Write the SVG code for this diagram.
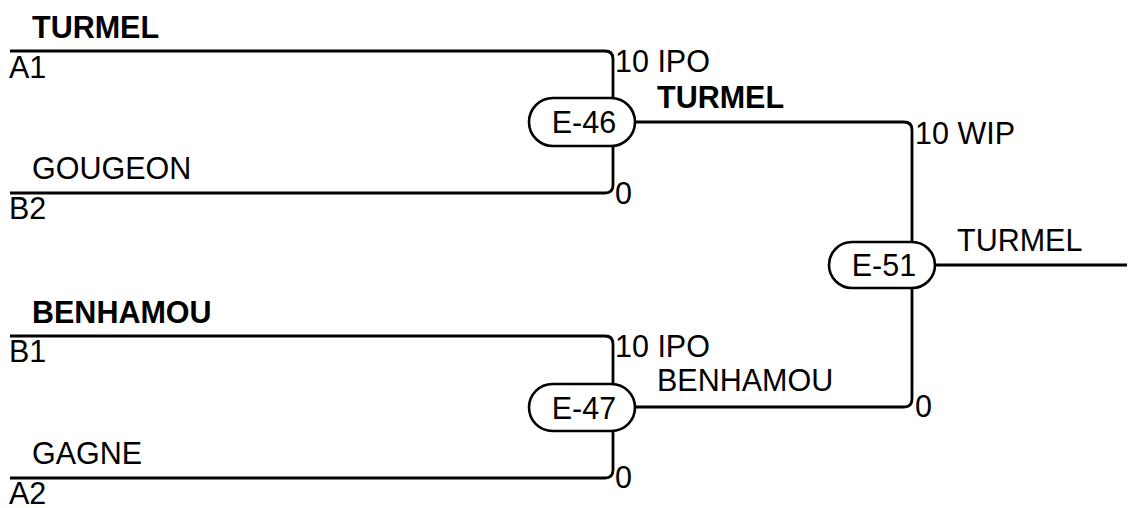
<svg xmlns="http://www.w3.org/2000/svg" width="1131" height="508" viewBox="0 0 1131 508">
<style>
.ln{fill:none;stroke:#000;stroke-width:2.8}
.pill{fill:#fff;stroke:#000;stroke-width:2.6}
text{font-family:"Liberation Sans",Arial,sans-serif;font-size:30.5px;fill:#000}
.b{font-weight:bold}
.c{text-anchor:middle}
</style>
<rect width="1131" height="508" fill="#fff"/>
<g id="connectors">
<path class="ln" d="M10,51 H605 Q613,51 613,59 V100"/>
<path class="ln" d="M10,193 H605 Q613,193 613,185 V144"/>
<path class="ln" d="M635,122 H904 Q912,122 912,130 V243"/>
<path class="ln" d="M10,336 H605 Q613,336 613,344 V385"/>
<path class="ln" d="M10,478 H605 Q613,478 613,470 V430"/>
<path class="ln" d="M635,407 H904 Q912,407 912,399 V287"/>
<path class="ln" d="M935,265 H1127"/>
</g>
<g id="entrants">
<text class="b" x="32" y="38">TURMEL</text>
<text x="9" y="78">A1</text>
<text x="32" y="179">GOUGEON</text>
<text x="9" y="219">B2</text>
<text class="b" x="32" y="323">BENHAMOU</text>
<text x="9" y="362">B1</text>
<text x="32" y="464">GAGNE</text>
<text x="9" y="504">A2</text>
</g>
<g id="E-46">
<rect class="pill" x="529" y="98" width="106" height="48" rx="24"/>
<text class="c" x="584" y="133">E-46</text>
<text x="615" y="72">10 IPO</text>
<text x="615" y="204">0</text>
<text class="b" x="657" y="108">TURMEL</text>
</g>
<g id="E-47">
<rect class="pill" x="529" y="384" width="106" height="47" rx="23.5"/>
<text class="c" x="584" y="419">E-47</text>
<text x="615" y="357">10 IPO</text>
<text x="615" y="488">0</text>
<text x="657" y="391">BENHAMOU</text>
</g>
<g id="E-51">
<rect class="pill" x="829" y="242" width="106" height="46" rx="23"/>
<text class="c" x="884" y="276">E-51</text>
<text x="915" y="144">10 WIP</text>
<text x="915" y="417">0</text>
<text x="957" y="251">TURMEL</text>
</g>
</svg>
